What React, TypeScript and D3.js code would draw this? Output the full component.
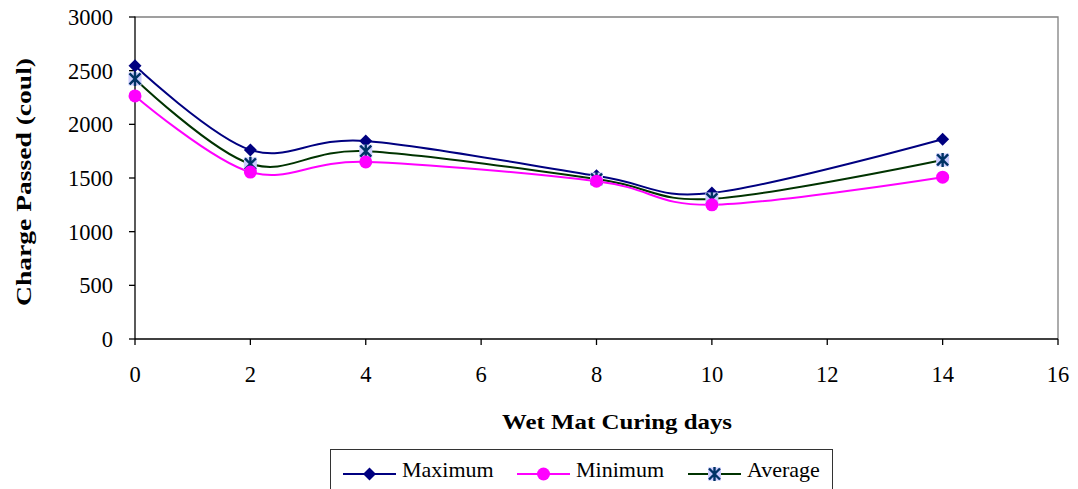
import React from "react";
import * as d3 from "d3";

const days = [0, 2, 4, 8, 10, 14];
const maximum = [2545, 1762, 1845, 1520, 1360, 1862];
const minimum = [2265, 1555, 1650, 1470, 1250, 1508];
const average = [2423, 1632, 1750, 1490, 1305, 1668];
const xTicks = [0, 2, 4, 6, 8, 10, 12, 14, 16];
const yTicks = [0, 500, 1000, 1500, 2000, 2500, 3000];

const W = 1078, H = 489;
const L = 135, R = 1058, T = 17, B = 339;
const font = '"Liberation Serif"';

export default function App() {
  const x = d3.scaleLinear().domain([0, 16]).range([L, R]);
  const y = d3.scaleLinear().domain([0, 3000]).range([B, T]);
  const line = d3.line<number>().x((_, i) => x(days[i])).y((v) => y(v)).curve(d3.curveCardinal.tension(0));

  const diamond = (cx: number, cy: number, key: string) => (
    <path key={key} d={`M${cx},${cy - 6.5}L${cx + 6.5},${cy}L${cx},${cy + 6.5}L${cx - 6.5},${cy}Z`} fill="#000080" />
  );
  const circle = (cx: number, cy: number, key: string) => <circle key={key} cx={cx} cy={cy} r={6.5} fill="#FF00FF" />;
  const star = (cx: number, cy: number, key: string) => (
    <g key={key}>
      <rect x={cx - 6.5} y={cy - 6.5} width={13} height={13} fill="#CCCCFF" />
      <path d={`M${cx - 5.5},${cy - 5.5}L${cx + 5.5},${cy + 5.5}M${cx - 5.5},${cy + 5.5}L${cx + 5.5},${cy - 5.5}M${cx},${cy - 7}L${cx},${cy + 7}`} stroke="#003366" strokeWidth={2.4} fill="none" />
    </g>
  );

  const series = [
    { name: "Maximum", data: maximum, color: "#000080", mk: diamond },
    { name: "Minimum", data: minimum, color: "#FF00FF", mk: circle },
    { name: "Average", data: average, color: "#003300", mk: star },
  ];
  const drawOrder = [series[0], series[2], series[1]];
  const legendX = [343, 517, 688];
  const legendY = 474;
  const ts = { fontFamily: font };

  return (
    <svg width={W} height={H} style={{ position: "absolute", left: 0, top: 0 }}>
      <rect x={0} y={0} width={W} height={H} fill="#fff" />
      <path d={`M${L},${T}H${R}V${B}`} fill="none" stroke="#808080" strokeWidth={1.3} />
      <line x1={L} y1={T - 0.5} x2={L} y2={B} stroke="#000" strokeWidth={1.3} />
      <line x1={L} y1={B} x2={R} y2={B} stroke="#000" strokeWidth={1.3} />
      {yTicks.map((t) => (
        <g key={"y" + t}>
          <line x1={L - 6} x2={L} y1={y(t)} y2={y(t)} stroke="#000" strokeWidth={1.3} />
          <text x={113} y={y(t) + 8} textAnchor="end" fontSize={22.5} style={ts}>{t}</text>
        </g>
      ))}
      {xTicks.map((t) => (
        <g key={"x" + t}>
          <line x1={x(t)} x2={x(t)} y1={B} y2={B + 6} stroke="#000" strokeWidth={1.3} />
          <text x={x(t)} y={382} textAnchor="middle" fontSize={22.5} style={ts}>{t}</text>
        </g>
      ))}
      <text x={617} y={429} textAnchor="middle" fontSize={22} fontWeight="bold" textLength={230} lengthAdjust="spacingAndGlyphs" style={ts}>Wet Mat Curing days</text>
      <text transform={`translate(31,182) rotate(-90)`} textAnchor="middle" fontSize={22} fontWeight="bold" textLength={248} lengthAdjust="spacingAndGlyphs" style={ts}>Charge Passed (coul)</text>
      {drawOrder.map((s) => (
        <path key={s.name} d={line(s.data) || ""} fill="none" stroke={s.color} strokeWidth={2} />
      ))}
      {drawOrder.map((s) => s.data.map((v, i) => s.mk(x(days[i]), y(v), s.name + i)))}
      <rect x={330.5} y={449.5} width={502} height={50} fill="#fff" stroke="#333" strokeWidth={1} />
      {series.map((s, i) => (
        <g key={"lg" + s.name}>
          <line x1={legendX[i]} x2={legendX[i] + 53} y1={legendY} y2={legendY} stroke={s.color} strokeWidth={2} />
          {s.mk(legendX[i] + 26.5, legendY, "lm" + i)}
          <text x={legendX[i] + 59} y={477} fontSize={22} style={ts}>{s.name}</text>
        </g>
      ))}
    </svg>
  );
}
